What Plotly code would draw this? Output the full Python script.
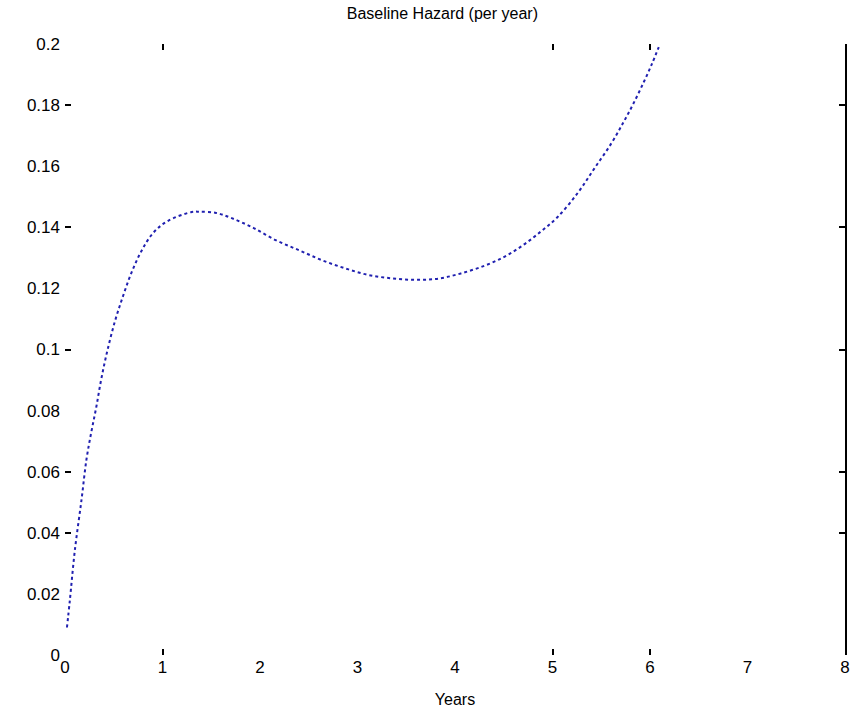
import plotly.graph_objects as go

# Data
years = [0.02, 0.05, 0.10, 0.17, 0.22, 0.27, 0.32, 0.37, 0.43, 0.51, 0.59, 0.68, 0.78,
         0.90, 1.05, 1.30, 1.38, 1.55, 1.71, 1.92, 2.16, 2.40, 2.63, 2.87, 3.11, 3.35,
         3.59, 3.83, 4.06, 4.30, 4.51, 4.70, 4.88, 5.05, 5.26, 5.43, 5.60, 5.73, 5.83,
         5.94, 6.02, 6.09]
hazard = [0.009, 0.018, 0.034, 0.051, 0.064, 0.073, 0.081, 0.090, 0.099, 0.109, 0.117,
          0.125, 0.132, 0.138, 0.142, 0.145, 0.1451, 0.1447, 0.143, 0.140, 0.1358, 0.1325,
          0.1293, 0.1266, 0.1244, 0.1233, 0.1228, 0.1232, 0.1249, 0.1274, 0.1304, 0.1342,
          0.1386, 0.1433, 0.1513, 0.1593, 0.1673, 0.1745, 0.1805, 0.1878, 0.1935, 0.1990]

x_tick_vals = [0, 1, 2, 3, 4, 5, 6, 7, 8]
x_tick_text = ["0", "1", "2", "3", "4", "5", "6", "7", "8"]
y_tick_vals = [0, 0.02, 0.04, 0.06, 0.08, 0.1, 0.12, 0.14, 0.16, 0.18, 0.2]
y_tick_text = ["0", "0.02", "0.04", "0.06", "0.08", "0.1", "0.12", "0.14", "0.16", "0.18", "0.2"]
# tick marks visible in the reference
x_mark_vals = [1, 5, 6]
y_mark_vals = [0.04, 0.06, 0.1, 0.14, 0.18]

title_text = "Baseline Hazard (per year)"
x_title = "Years"

FONT = "Liberation Sans, Arial, sans-serif"

fig = go.Figure()
fig.add_trace(go.Scatter(x=years, y=hazard, mode="lines",
                         line=dict(color="#2020b0", width=2, dash="dot", shape="spline",
                                   smoothing=1.0),
                         showlegend=False, hoverinfo="skip"))
# invisible traces so the overlay axes form subplots
fig.add_trace(go.Scatter(x=[None], y=[None], xaxis="x2", yaxis="y2", showlegend=False))
fig.add_trace(go.Scatter(x=[None], y=[None], xaxis="x2", yaxis="y3", showlegend=False))

axis_common = dict(showgrid=False, zeroline=False, automargin=False)
fig.update_layout(
    width=854, height=716,
    margin=dict(l=65, r=9, t=44, b=61),
    paper_bgcolor="white", plot_bgcolor="white",
    font=dict(family=FONT, size=17, color="black"),
    title=dict(text=title_text, x=0.518, xref="container", y=1 - 13 / 716,
               yref="container", xanchor="center", yanchor="middle",
               font=dict(size=16), automargin=False),
    xaxis=dict(range=[0, 8], tickvals=x_tick_vals, ticktext=x_tick_text, ticks="",
               showline=False, tickfont=dict(size=17),
               title=dict(text=x_title, standoff=17, font=dict(size=16)), **axis_common),
    yaxis=dict(range=[0, 0.2], tickvals=y_tick_vals, ticktext=y_tick_text, ticks="",
               showline=False, tickfont=dict(size=17), ticklabelstandoff=4, **axis_common),
    xaxis2=dict(range=[0, 8], overlaying="x", side="bottom", anchor="y2",
                tickvals=x_mark_vals, ticks="inside", ticklen=6, tickwidth=2,
                tickcolor="black", mirror="ticks", showline=False,
                showticklabels=False, **axis_common),
    yaxis2=dict(range=[0, 0.2], overlaying="y", side="left", anchor="x2",
                tickvals=y_mark_vals, ticks="inside", ticklen=6, tickwidth=2,
                tickcolor="black", mirror="ticks", showline=False,
                showticklabels=False, **axis_common),
    yaxis3=dict(range=[0, 0.2], overlaying="y", side="right", anchor="x2",
                showline=True, linecolor="black", linewidth=2, ticks="",
                showticklabels=False, **axis_common),
)

fig.write_html("out.html")
